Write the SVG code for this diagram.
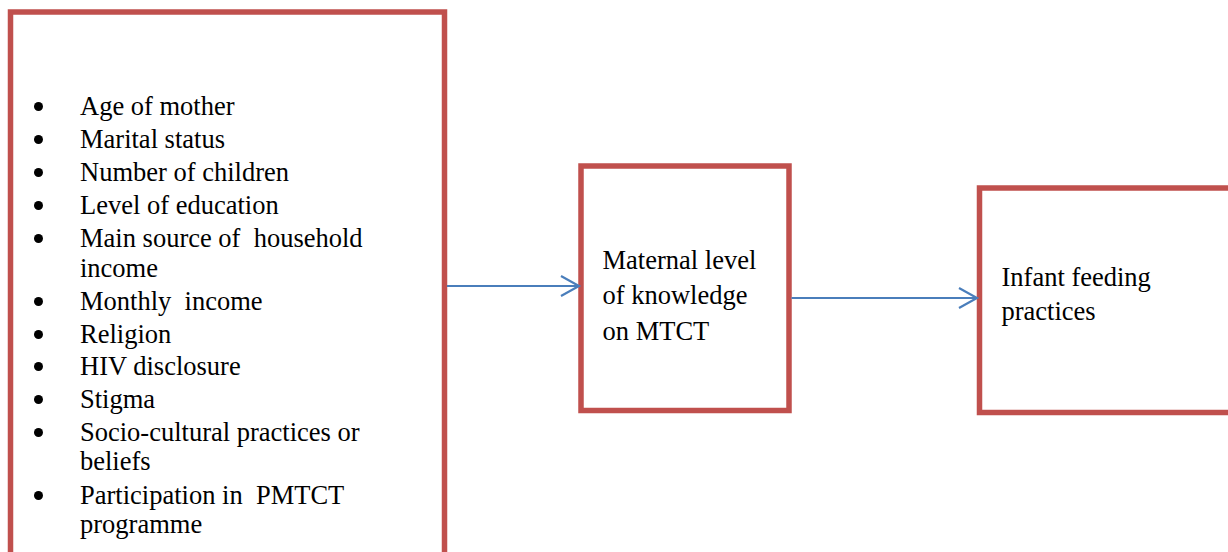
<svg xmlns="http://www.w3.org/2000/svg" width="1228" height="552" viewBox="0 0 1228 552">
<style>
.box{fill:#fff;stroke:#c0504d;stroke-width:5.5}
.t{font-family:'Liberation Serif','Times New Roman',Times,'DejaVu Serif',serif;font-size:26.5px;fill:#000}
.c{fill:none;stroke:#4a7ebb;stroke-width:2.2}
</style>
<defs>
<marker id="arr" markerUnits="userSpaceOnUse" markerWidth="24" markerHeight="24" refX="19" refY="11" orient="auto" viewBox="0 0 24 22">
<path d="M1,1 L19,11 L1,21" fill="none" stroke="#4a7ebb" stroke-width="2.2"/>
</marker>
</defs>
<rect width="1228" height="552" fill="#fff"/>
<g id="factors" font-family="Liberation Serif, Times New Roman, serif">
<rect class="box" x="10.5" y="12" width="434" height="560"/>
<g fill="#000">
<circle cx="38.5" cy="106.5" r="4.5"/>
<circle cx="38.5" cy="139.5" r="4.5"/>
<circle cx="38.5" cy="172.5" r="4.5"/>
<circle cx="38.5" cy="205.5" r="4.5"/>
<circle cx="38.5" cy="238.5" r="4.5"/>
<circle cx="38.5" cy="301.5" r="4.5"/>
<circle cx="38.5" cy="334.5" r="4.5"/>
<circle cx="38.5" cy="366.5" r="4.5"/>
<circle cx="38.5" cy="399.5" r="4.5"/>
<circle cx="38.5" cy="432.5" r="4.5"/>
<circle cx="38.5" cy="495.5" r="4.5"/>
</g>
<text class="t" x="80" y="114.5">Age of mother</text>
<text class="t" x="80" y="147.5">Marital status</text>
<text class="t" x="80" y="180.5">Number of children</text>
<text class="t" x="80" y="213.5">Level of education</text>
<text class="t" x="80" y="246.5" xml:space="preserve">Main source of  household</text>
<text class="t" x="80" y="276.5">income</text>
<text class="t" x="80" y="309.5" xml:space="preserve">Monthly  income</text>
<text class="t" x="80" y="342.5">Religion</text>
<text class="t" x="80" y="374.5">HIV disclosure</text>
<text class="t" x="80" y="407.5">Stigma</text>
<text class="t" x="80" y="440.5">Socio-cultural practices or</text>
<text class="t" x="80" y="469.5">beliefs</text>
<text class="t" x="80" y="503.5" xml:space="preserve">Participation in  PMTCT</text>
<text class="t" x="80" y="533">programme</text>
</g>
<g id="knowledge">
<rect class="box" x="581" y="166" width="208" height="244.5"/>
<text class="t" x="602.5" y="268.5">Maternal level</text>
<text class="t" x="602.5" y="304">of knowledge</text>
<text class="t" x="602.5" y="339.5">on MTCT</text>
</g>
<g id="feeding">
<rect class="box" x="979.5" y="188" width="270" height="224.5"/>
<text class="t" x="1001.5" y="286">Infant feeding</text>
<text class="t" x="1001.5" y="320">practices</text>
</g>
<g id="connectors">
<line class="c" x1="447" y1="286" x2="579" y2="286" marker-end="url(#arr)"/>
<line class="c" x1="791.5" y1="298" x2="977" y2="298" marker-end="url(#arr)"/>
</g>
</svg>
